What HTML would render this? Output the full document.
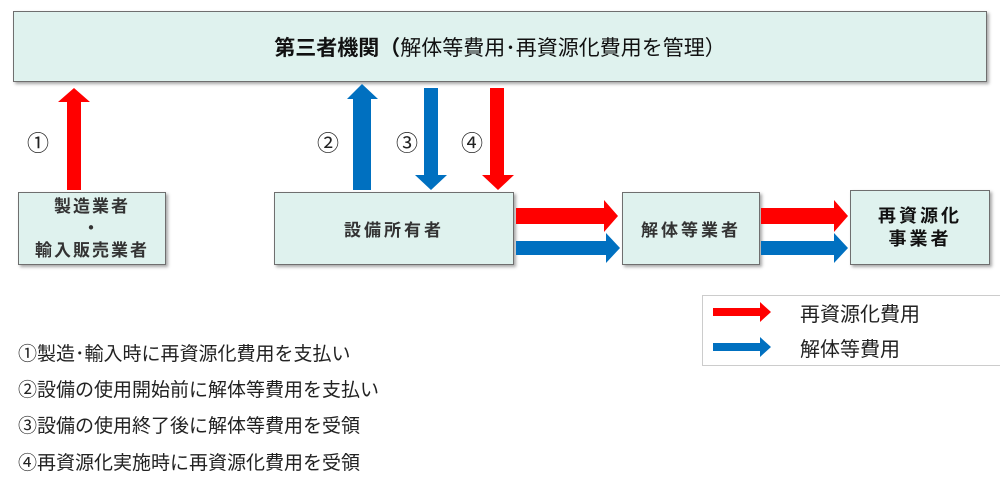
<!DOCTYPE html>
<html><head><meta charset="utf-8"><style>
body{margin:0;width:1000px;height:477px;background:#fff;position:relative;overflow:hidden;font-family:"Liberation Sans","Noto Sans CJK JP",sans-serif;}
.b{position:absolute;background:#dff2ee;border:1.5px solid #6f6f6f;box-shadow:2px 2px 3px rgba(0,0,0,.35);box-sizing:border-box;display:flex;align-items:center;justify-content:center;text-align:center;font-weight:bold;color:#333;font-size:17px;letter-spacing:3px;}
.t{position:absolute;font-size:20px;color:#222;white-space:nowrap;}
.n{position:absolute;font-size:22px;color:#222;}
</style></head><body>
<div class="b" style="left:13px;top:11px;width:974px;height:71px;font-size:21px;letter-spacing:0;color:#111;">第三者機関（<span style="font-weight:normal">解体等費用･再資源化費用を管理）</span></div>
<div class="b" style="left:18px;top:192px;width:148px;height:73px;line-height:22px;letter-spacing:2px;">製造業者<br>・<br>輸入販売業者</div>
<div class="b" style="left:274px;top:192px;width:240px;height:73px;">設備所有者</div>
<div class="b" style="left:622px;top:192px;width:138px;height:73px;">解体等業者</div>
<div class="b" style="left:850px;top:190px;width:140px;height:75px;line-height:23px;color:#111;font-size:18px;">再資源化<br>事業者</div>
<svg width="1000" height="477" style="position:absolute;left:0;top:0">
<polygon points="67,190 67,102 58,102 74,88 90,102 81,102 81,190" fill="#ff0000"/>
<polygon points="353,190 353,99 347,99 362,84 378,99 371,99 371,190" fill="#0070c0"/>
<polygon points="424,88 438,88 438,175 447,175 431,190 415,175 424,175" fill="#0070c0"/>
<polygon points="490,88 504,88 504,175 514,175 498,190 482,175 490,175" fill="#ff0000"/>
<polygon points="516,208 604,208 604,200 618,216 604,232 604,224 516,224" fill="#ff0000"/>
<polygon points="516,241 606,241 606,233 620,248 606,263 606,255 516,255" fill="#0070c0"/>
<polygon points="761,208 834,208 834,200 848,216 834,232 834,224 761,224" fill="#ff0000"/>
<polygon points="761,241 834,241 834,233 848,248 834,263 834,255 761,255" fill="#0070c0"/>
<polygon points="713,308 760,308 760,302 771,312 760,322 760,316 713,316" fill="#ff0000"/>
<polygon points="713,343 760,343 760,337 771,347 760,357 760,351 713,351" fill="#0070c0"/>
</svg>
<div class="n" style="left:27px;top:126px;">①</div>
<div class="n" style="left:317px;top:126px;">②</div>
<div class="n" style="left:396px;top:126px;">③</div>
<div class="n" style="left:461px;top:126px;">④</div>
<div style="position:absolute;left:702px;top:295px;width:300px;height:71px;border:1px solid #ccc;box-sizing:border-box;"></div>
<div class="t" style="left:800px;top:298px;">再資源化費用</div>
<div class="t" style="left:800px;top:333px;">解体等費用</div>
<div class="t" style="left:18px;top:339px;font-size:19px;">①製造･輸入時に再資源化費用を支払い</div>
<div class="t" style="left:18px;top:375px;font-size:19px;">②設備の使用開始前に解体等費用を支払い</div>
<div class="t" style="left:18px;top:411px;font-size:19px;">③設備の使用終了後に解体等費用を受領</div>
<div class="t" style="left:18px;top:448px;font-size:19px;">④再資源化実施時に再資源化費用を受領</div>
</body></html>
